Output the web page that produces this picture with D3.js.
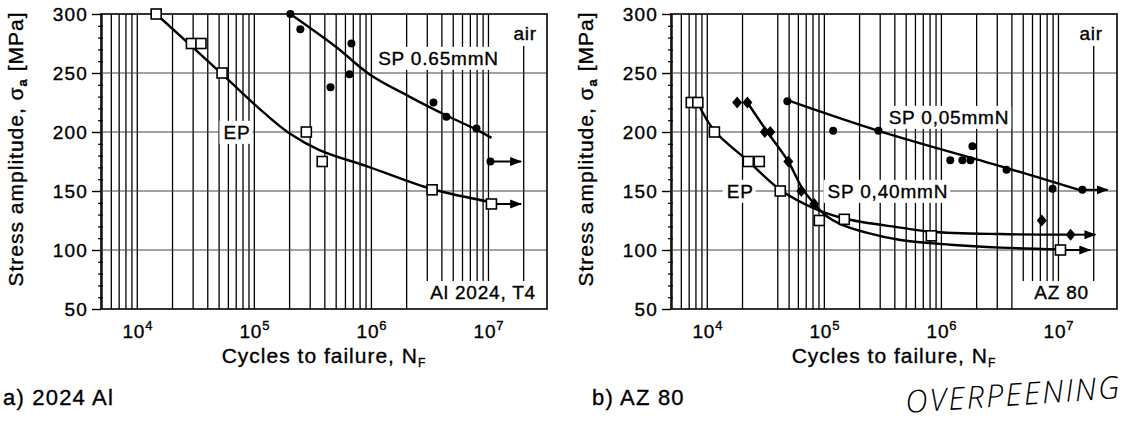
<!DOCTYPE html>
<html><head><meta charset="utf-8">
<script src="https://cdn.jsdelivr.net/npm/d3@7"></script>
<style>
body{margin:0;background:#fff;}
svg{display:block;}
text{font-family:"Liberation Sans",Arial,Helvetica,sans-serif;fill:#000;stroke:#000;stroke-width:0.35px;}
</style>
</head><body>
<svg id="c" width="1123" height="422"></svg>
<script>
// ---------------- data ----------------
const decadeTicks = [1e4, 1e5, 1e6, 1e7];
const decadeExp = ['4', '5', '6', '7'];
const stressTicks = [50, 100, 150, 200, 250, 300];

// a) 2024 Al  [cycles, stress]
const alEP = [[1.45e4,300],[2.9e4,275],[3.5e4,275],[5.3e4,250],[2.78e5,200],[3.8e5,175],[3.3e6,151],[1.06e7,139]];
const alEPRunout = [[1.06e7,139,1.9e7]];
const alEPFit = [[1.45e4,300],[5.3e4,249],[1.22e5,216],[1.99e5,199],[3.6e5,184.7],[9.6e5,170.3],[3.3e6,151.7],[1.06e7,140.5]];
const alSP = [[2.03e5,300],[2.47e5,287],[4.47e5,238],[6.5e5,249],[6.75e5,275],[3.39e6,225],[4.37e6,213],[7.9e6,203],[1.04e7,175]];
const alSPRunout = [[1.04e7,175,1.9e7]];
const alSPFit = [[2.03e5,300],[5.0e5,272],[9.6e5,249],[2.11e6,230],[4.37e6,214],[7.9e6,202],[1.06e7,195]];

// b) AZ 80
const azEP = [[7.3e3,225],[8.3e3,225],[1.15e4,200],[2.24e4,175],[2.78e4,175],[4.2e4,150],[9.06e4,125],[1.48e5,126],[8.2e5,112],[1.04e7,100]];
const azEPRunout = [[1.04e7,100,1.87e7]];
const azSP40 = [[1.8e4,225],[2.2e4,225],[3.1e4,200],[3.45e4,200],[4.92e4,175],[6.35e4,150],[8.2e4,139],[7.2e6,125],[1.27e7,113]];
const azSP40Runout = [[1.27e7,113,2.07e7]];
const azSP05 = [[4.83e4,226],[1.19e5,201],[2.9e5,201],[1.19e6,176],[1.51e6,176],[1.77e6,176],[1.84e6,188],[3.6e6,168],[8.9e6,152],[1.6e7,151]];
const azSP05Runout = [[1.6e7,151,2.63e7]];
const azFitUpper = [[8.26e3,225],[1.15e4,201],[2.2e4,176],[4.2e4,151],[8.05e4,135.5],[1.51e5,126.5],[4.47e5,119],[8.2e5,115.5],[3.19e6,113.5],[1.27e7,113]];
const azFitLower = [[2.2e4,225],[3.26e4,200],[4.92e4,175],[6.5e4,152],[8.4e4,138],[1.04e5,128.8],[1.37e5,122],[2.33e5,114.5],[4.47e5,108.5],[1.19e6,104.5],[3.19e6,102],[1.04e7,100.5]];
const azFitSP05 = [[4.83e4,227],[2.9e5,201],[3.6e6,169.5],[1.5e7,151]];

// ---------------- layout ----------------
const svg = d3.select('#c');
svg.append('rect').attr('width',1123).attr('height',422).attr('fill','#fff');

const defs = svg.append('defs');
defs.append('marker').attr('id','arr').attr('markerUnits','userSpaceOnUse')
  .attr('markerWidth',12).attr('markerHeight',10).attr('refX',11).attr('refY',4.5)
  .attr('orient','auto')
  .append('path').attr('d','M0,0 L12,4.5 L0,9 Z').attr('fill','#000');

const TOP = 14, BOT = 309;
const panels = [
  { x0:101, x1:547, skip:[],
    fits:[alEPFit, alSPFit],
    squares:alEP, dots:alSP, diamonds:[],
    runouts:[...alEPRunout, ...alSPRunout],
    labels:[
      {t:'EP', N:7.1e4, S:200, anchor:'middle'},
      {t:'SP 0.65mmN', N:3.74e6, S:262.7, anchor:'middle'}
    ],
    air:{dx:10, boxL:12}, corner:{t:'Al 2024, T4', dx:11, boxL:8},
    caption:'a) 2024 Al', capX:3 },
  { x0:671, x1:1117, skip:[3e4],
    fits:[azFitUpper, azFitLower, azFitSP05],
    squares:azEP, dots:azSP05, diamonds:azSP40,
    runouts:[...azEPRunout, ...azSP40Runout, ...azSP05Runout],
    labels:[
      {t:'EP', N:1.91e4, S:150, anchor:'middle'},
      {t:'SP 0,40mmN', N:3.49e5, S:150, anchor:'middle'},
      {t:'SP 0,05mmN', N:1.16e6, S:212.7, anchor:'middle'}
    ],
    air:{dx:14, boxL:12}, corner:{t:'AZ 80', dx:28, boxL:14},
    caption:'b) AZ 80', capX:592 }
];

function sup(sel, base, exp, fs, efs, dy){
  sel.append('tspan').text(base).attr('font-size',fs);
  sel.append('tspan').text(exp).attr('font-size',efs).attr('dy',dy);
}

panels.forEach(p => {
  const x = d3.scaleLog().domain([10**3.69, 10**7.5]).range([p.x0, p.x1]);
  const y = d3.scaleLinear().domain([50, 300]).range([BOT, TOP]);
  const g = svg.append('g');
  const gGrid = g.append('g'), gBox = g.append('g'), gFrame = g.append('g'),
        gCurve = g.append('g'), gMark = g.append('g'), gText = g.append('g');

  // vertical grid lines
  const gridVals = [];
  for (let d = 3; d <= 7; d++) for (let m = 1; m <= 9; m++) {
    const v = m * 10 ** d;
    if (v > x.domain()[0] * 1.01 && v < 2.5e7 && !p.skip.includes(v)) gridVals.push(v);
  }
  gGrid.selectAll('line.v').data(gridVals).join('line')
    .attr('x1', d => x(d)).attr('x2', d => x(d)).attr('y1', TOP).attr('y2', BOT)
    .attr('stroke', '#000').attr('stroke-width', 1.3);
  gGrid.selectAll('line.h').data([100,150,200,250]).join('line')
    .attr('x1', p.x0).attr('x2', p.x1).attr('y1', d => y(d)).attr('y2', d => y(d))
    .attr('stroke', '#444').attr('stroke-width', 1);

  // y axis
  const ya = gFrame.append('g').attr('transform', `translate(${p.x0},0)`)
    .call(d3.axisLeft(y).tickValues(stressTicks).tickSize(9).tickPadding(4));
  ya.select('.domain').remove();
  ya.selectAll('line').attr('stroke', '#000').attr('stroke-width', 1.4);
  ya.selectAll('text').attr('font-size', 19).attr('letter-spacing', 1.2)
    .style('font-family', '"Liberation Sans",Arial,sans-serif');
  const ym = gFrame.append('g').attr('transform', `translate(${p.x0+2},0)`)
    .call(d3.axisLeft(y).tickValues(d3.range(60, 300, 10).filter(v => v % 50)).tickSize(5).tickFormat(''));
  ym.select('.domain').remove();
  ym.selectAll('line').attr('stroke', '#000').attr('stroke-width', 1.2);

  // x axis labels
  const xa = gFrame.append('g').attr('transform', `translate(0,${BOT})`)
    .call(d3.axisBottom(x).tickValues(decadeTicks).tickSize(0).tickFormat(''));
  xa.select('.domain').remove();
  xa.selectAll('.tick').each(function(d, i) {
    const t = d3.select(this).append('text').attr('y', 29).attr('text-anchor', 'middle')
      .attr('letter-spacing', 0.8).style('font-family','"Liberation Sans",Arial,sans-serif');
    sup(t, '10', decadeExp[i], 19, 13, -8);
  });

  // frame
  gFrame.append('rect').attr('x', p.x0).attr('y', TOP).attr('width', p.x1 - p.x0).attr('height', BOT - TOP)
    .attr('fill', 'none').attr('stroke', '#000').attr('stroke-width', 1.6);

  // labels with white boxes
  p.labels.forEach(l => {
    const t = gText.append('text').attr('x', x(l.N)).attr('y', y(l.S)).attr('dy', '0.36em')
      .attr('text-anchor', l.anchor).attr('font-size', 19).attr('letter-spacing', 0.8).text(l.t);
    const b = t.node().getBBox();
    gBox.append('rect').attr('x', b.x - 4).attr('y', b.y - 1).attr('width', b.width + 6).attr('height', b.height + 2)
      .attr('fill', '#fff');
  });
  {
    const t = gText.append('text').attr('x', p.x1 - p.air.dx).attr('y', 40).attr('text-anchor', 'end')
      .attr('font-size', 19).attr('letter-spacing', 0.8).text('air');
    const b = t.node().getBBox();
    gBox.append('rect').attr('x', b.x - p.air.boxL).attr('y', TOP).attr('width', p.x1 - b.x + p.air.boxL)
      .attr('height', b.y + b.height - TOP + 2).attr('fill', '#fff');
  }
  {
    const t = gText.append('text').attr('x', p.x1 - p.corner.dx).attr('y', 299).attr('text-anchor', 'end')
      .attr('font-size', 19).attr('letter-spacing', 0.8).text(p.corner.t);
    const b = t.node().getBBox();
    gBox.append('rect').attr('x', b.x - p.corner.boxL).attr('y', b.y - 1).attr('width', p.x1 - b.x + p.corner.boxL)
      .attr('height', BOT - b.y + 1).attr('fill', '#fff');
  }

  // fitted curves
  const line = d3.line().x(d => x(d[0])).y(d => y(d[1])).curve(d3.curveCatmullRom.alpha(0.5));
  gCurve.selectAll('path.fit').data(p.fits).join('path')
    .attr('d', line).attr('fill', 'none').attr('stroke', '#000').attr('stroke-width', 2.4);
  // run-out arrows
  gCurve.selectAll('line.ro').data(p.runouts).join('line')
    .attr('x1', d => x(d[0])).attr('x2', d => x(d[2])).attr('y1', d => y(d[1])).attr('y2', d => y(d[1]))
    .attr('stroke', '#000').attr('stroke-width', 2).attr('marker-end', 'url(#arr)');

  // markers
  gMark.selectAll('rect.sq').data(p.squares).join('rect')
    .attr('x', d => x(d[0]) - 5).attr('y', d => y(d[1]) - 5).attr('width', 10).attr('height', 10)
    .attr('fill', '#fff').attr('stroke', '#000').attr('stroke-width', 1.6);
  gMark.selectAll('circle.dot').data(p.dots).join('circle')
    .attr('cx', d => x(d[0])).attr('cy', d => y(d[1])).attr('r', 4).attr('fill', '#000');
  gMark.selectAll('path.dia').data(p.diamonds).join('path')
    .attr('d', d => { const cx = x(d[0]), cy = y(d[1]); return `M${cx},${cy-6}L${cx+5},${cy}L${cx},${cy+6}L${cx-5},${cy}Z`; })
    .attr('fill', '#000');

  // axis titles
  const yt = g.append('text').attr('transform', `translate(${p.x0 - 78},149) rotate(-90)`)
    .attr('text-anchor', 'middle').attr('font-size', 21).attr('letter-spacing', 1);
  yt.append('tspan').text('Stress amplitude, σ');
  yt.append('tspan').text('a').attr('font-size', 13).attr('dy', 4).attr('font-weight','bold');
  yt.append('tspan').text(' [MPa]').attr('dy', -4);
  const xt = g.append('text').attr('x', (p.x0 + p.x1) / 2).attr('y', 363).attr('text-anchor', 'middle')
    .attr('font-size', 21).attr('letter-spacing', 1);
  xt.append('tspan').text('Cycles to failure, N');
  xt.append('tspan').text('F').attr('font-size', 12).attr('dy', 4);

  g.append('text').attr('x', p.capX).attr('y', 405).attr('font-size', 22).attr('letter-spacing', 1.2).text(p.caption);
});

// handwritten note
svg.append('text').attr('transform', 'translate(906,413) rotate(-4)')
  .attr('font-size', 31).attr('font-style', 'italic').attr('font-weight', 300)
  .attr('letter-spacing', 2).style('font-family', '"Open Sans","DejaVu Sans",sans-serif')
  .style('stroke-width', '0px')
  .text('OVERPEENING');
</script>
</body></html>
